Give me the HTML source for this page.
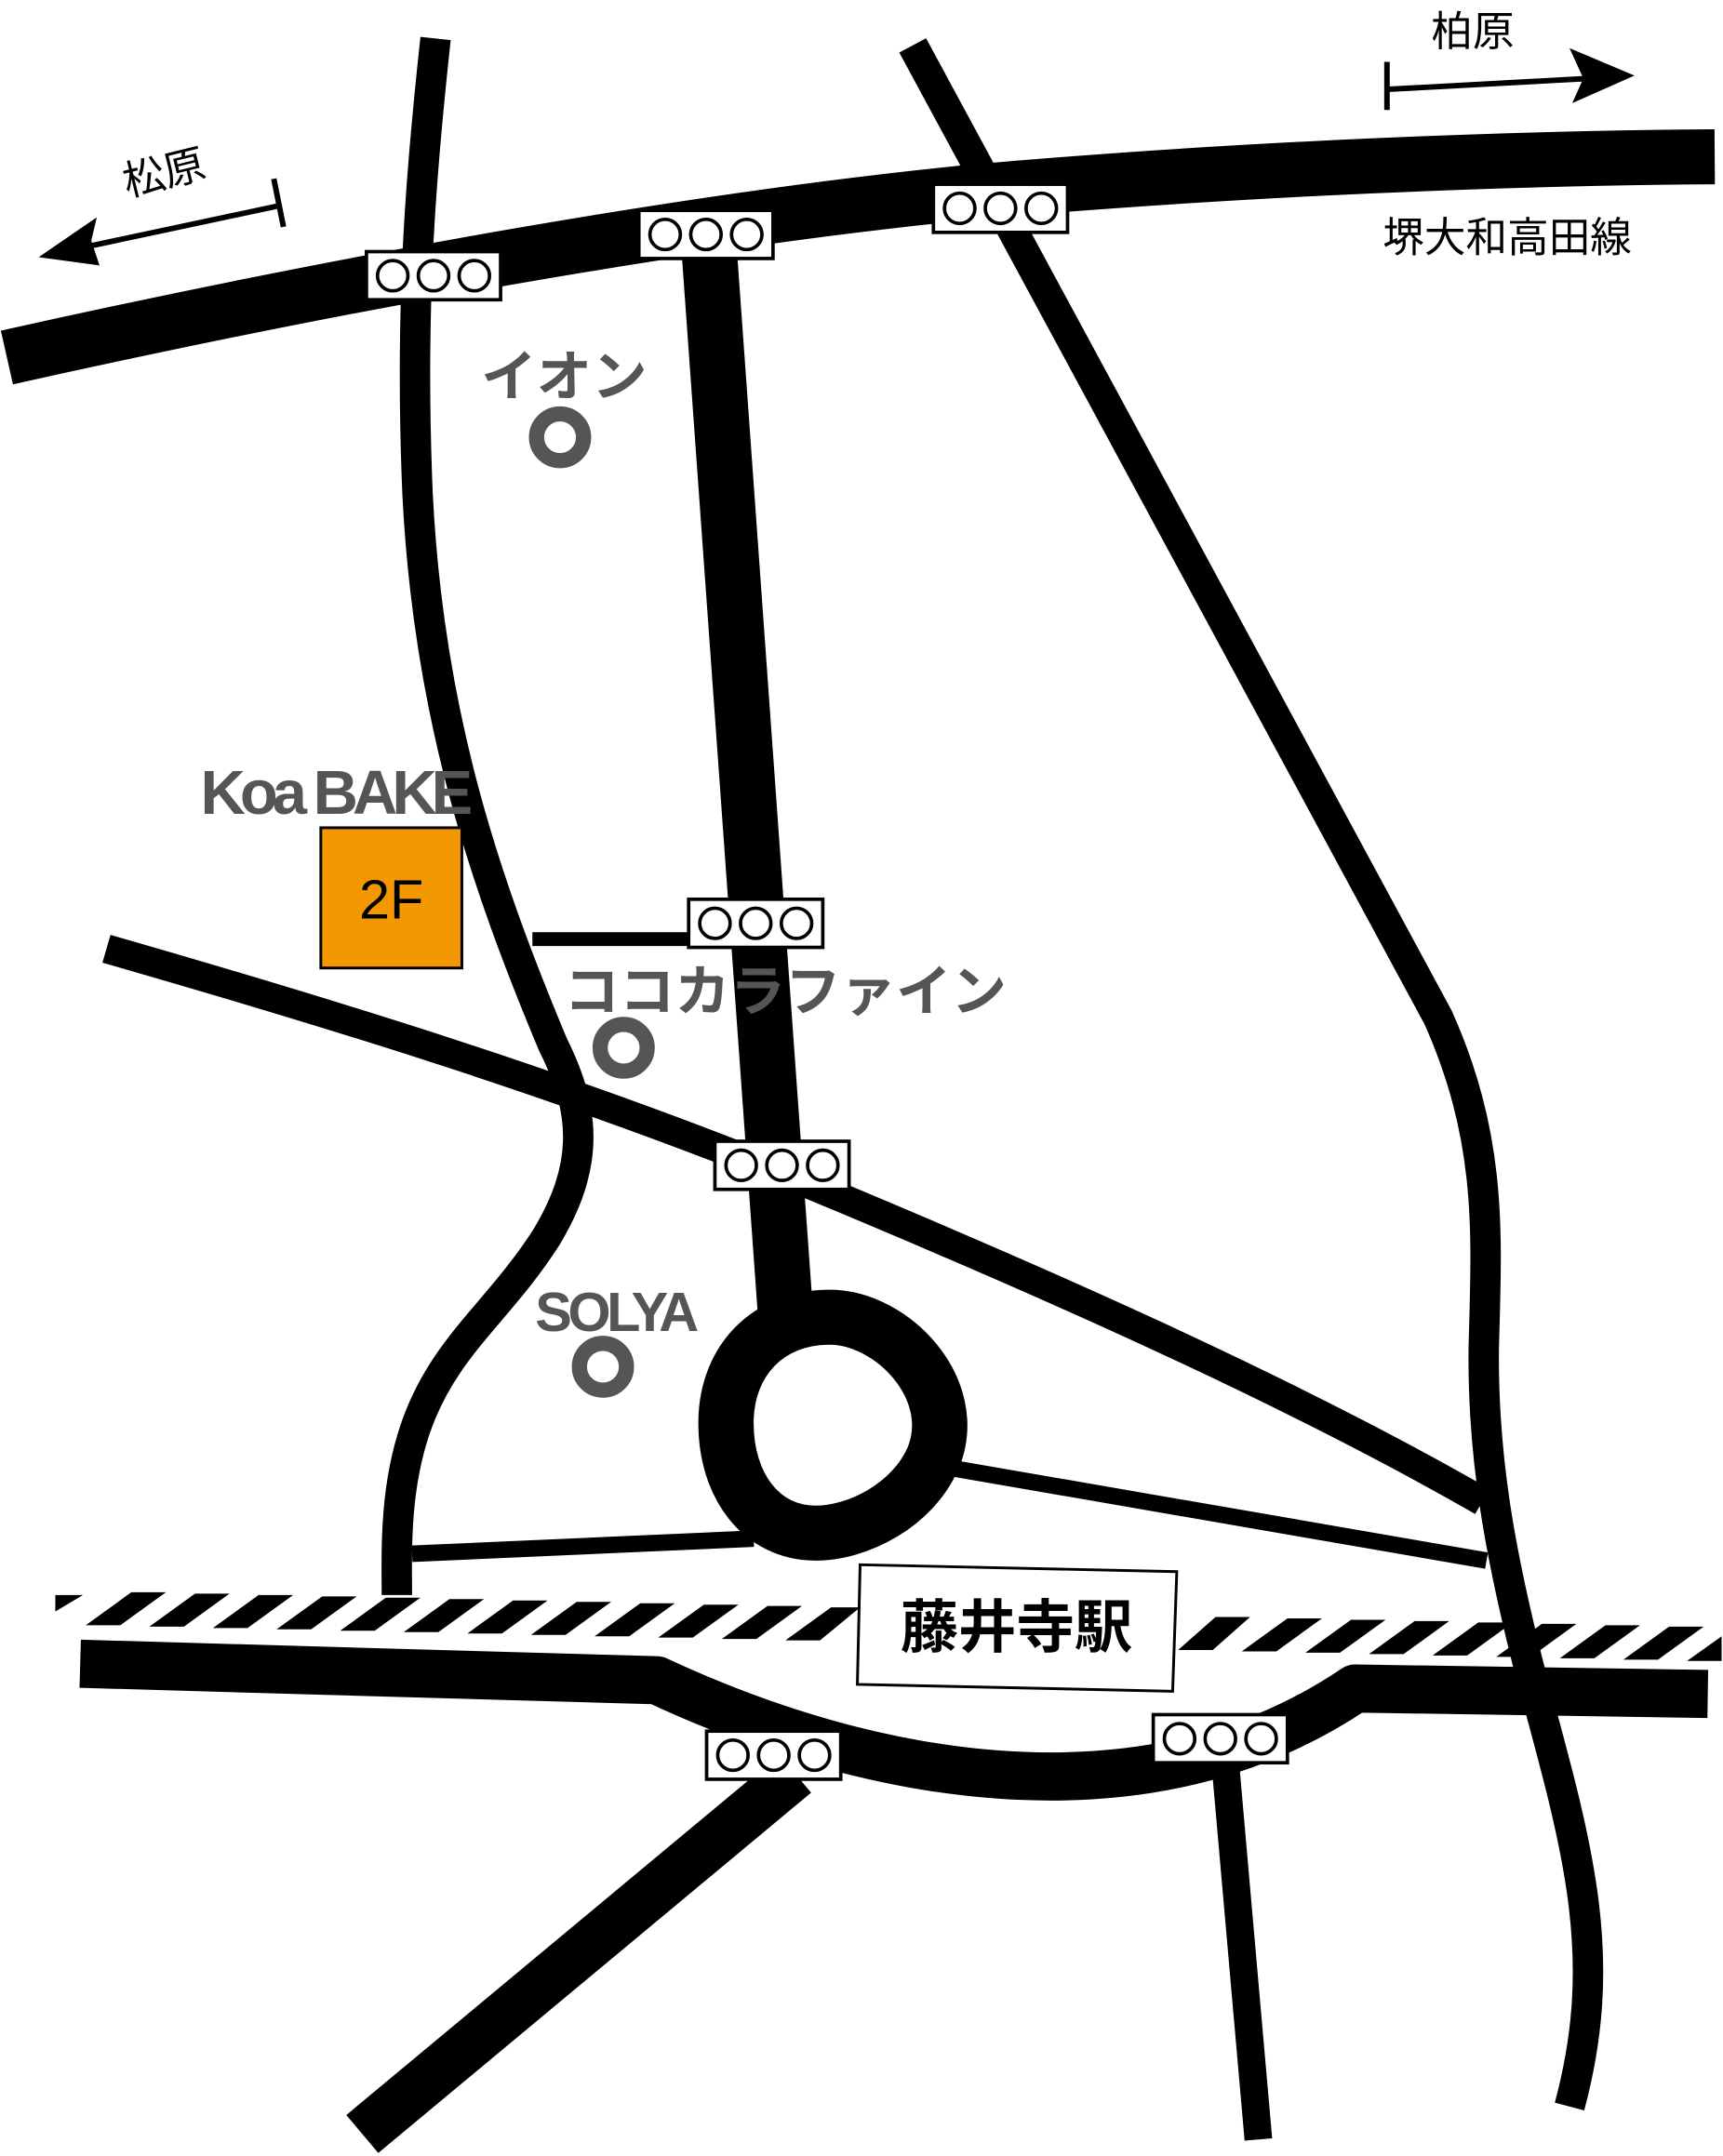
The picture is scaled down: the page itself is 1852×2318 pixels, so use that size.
<!DOCTYPE html>
<html><head><meta charset="utf-8"><style>
html,body{margin:0;padding:0;background:#fff;}
svg{display:block;}
text{font-family:"Liberation Sans","Noto Sans CJK JP",sans-serif;}
</style></head><body>
<svg width="1852" height="2318" viewBox="0 0 1246 1568" preserveAspectRatio="none" xmlns="http://www.w3.org/2000/svg">
<defs>
<g id="sig"><rect x="0" y="0" width="97" height="35" fill="#fff" stroke="#000" stroke-width="2.5"/>
<circle cx="19" cy="17.5" r="11" fill="#fff" stroke="#000" stroke-width="2.5"/>
<circle cx="48.5" cy="17.5" r="11" fill="#fff" stroke="#000" stroke-width="2.5"/>
<circle cx="78" cy="17.5" r="11" fill="#fff" stroke="#000" stroke-width="2.5"/></g>
<g id="mk"><circle r="17" fill="none" stroke="#555" stroke-width="11"/></g>
</defs>
<g fill="none" stroke="#000" stroke-linecap="butt" stroke-linejoin="round">
<path d="M315,28 C305,120 296,220 302,360 C310,520 350,640 400,760 C425,810 425,850 395,900 C360,955 320,980 300,1040 C285,1085 287,1130 287,1160" stroke-width="22"/>
<path d="M660,33 L1040,740 C1080,830 1075,900 1073,980 C1072,1060 1085,1130 1105,1210 C1140,1340 1165,1420 1135,1532" stroke-width="22"/>
<path d="M512,170 L568,955" stroke-width="40"/>
<path d="M77,690 C250,740 410,790 570,855 C750,930 930,1010 1072,1092" stroke-width="21"/>
<path d="M385,683 L500,683" stroke-width="10"/>
<path d="M600,958 C645,958 695,1010 675,1060 C660,1095 620,1115 590,1115 C550,1115 525,1080 525,1035 C525,990 555,958 600,958 Z" stroke-width="40"/>
<path d="M690,1068 L1075,1135" stroke-width="12"/>
<path d="M298,1130 L545,1119" stroke-width="12"/>
<path d="M5,260 C250,205 500,160 700,140 C900,122 1100,115 1240,114" stroke-width="40"/>
<path d="M58,1210 L475,1222 C560,1262 660,1292 760,1292 C860,1292 930,1262 980,1228 L1235,1232" stroke-width="35"/>
<path d="M575,1290 L262,1552" stroke-width="36"/>
<path d="M885,1270 L910,1556" stroke-width="20"/>
<path d="M200,150 L60,180" stroke-width="4"/>
<path d="M198,130 L205,165" stroke-width="4"/>
<path d="M1003,65 L1150,57" stroke-width="4"/>
<path d="M1003,45 L1003,80" stroke-width="4"/>
</g>
<path d="M28,187 L70,158 L66,175 L72,193 Z" fill="#000"/>
<path d="M1182,55 L1135,35 L1145,57 L1137,75 Z" fill="#000"/>
<polygon points="622,1138 851,1143 848,1230 620,1225" fill="#fff" stroke="#000" stroke-width="2"/>
<text x="735" y="1198" font-size="42" font-weight="bold" text-anchor="middle">藤井寺駅</text>
<use href="#sig" x="265" y="183"/>
<use href="#sig" x="462" y="153"/>
<use href="#sig" x="675" y="134"/>
<use href="#sig" x="498" y="654"/>
<use href="#sig" x="517" y="830"/>
<use href="#sig" x="511" y="1259"/>
<use href="#sig" x="834" y="1247"/>
<use href="#mk" x="405" y="318"/>
<use href="#mk" x="451" y="762"/>
<use href="#mk" x="436" y="994"/>
<text x="348" y="288" font-size="40" fill="#555" font-weight="bold">イオン</text>
<text x="408" y="735" font-size="40" fill="#555" font-weight="bold">ココカラファイン</text>
<text x="387" y="968" font-size="40" fill="#555" font-weight="bold" letter-spacing="-3">SOLYA</text>
<text x="145" y="592" font-size="45" fill="#555" font-weight="bold" letter-spacing="-4">Koa BAKE</text>
<rect x="232" y="602" width="102" height="102" fill="#f39800" stroke="#000" stroke-width="2"/>
<text x="283" y="668" font-size="40" text-anchor="middle">2F</text>
<text x="92" y="143" font-size="30" transform="rotate(-14 92 143)">松原</text>
<text x="1035" y="33" font-size="30">柏原</text>
<text x="1000" y="183" font-size="30">堺大和高田線</text>
<g fill="#000">
<polygon points="40,1160 60,1160 40,1172"/>
<polygon points="62,1182 95,1158 120,1158 87,1182"/>
<polygon points="108,1183 141,1159 166,1159 133,1183"/>
<polygon points="154,1184 187,1160 212,1160 179,1184"/>
<polygon points="200,1185 233,1161 258,1161 225,1185"/>
<polygon points="246,1186 279,1162 304,1162 271,1186"/>
<polygon points="292,1187 325,1163 350,1163 317,1187"/>
<polygon points="338,1188 371,1164 396,1164 363,1188"/>
<polygon points="384,1189 417,1165 442,1165 409,1189"/>
<polygon points="430,1190 463,1166 488,1166 455,1190"/>
<polygon points="476,1191 509,1167 534,1167 501,1191"/>
<polygon points="522,1192 555,1168 580,1168 547,1192"/>
<polygon points="568,1193 601,1169 622,1169 593,1193"/>
<polygon points="852,1200 879,1176 904,1176 877,1200"/>
<polygon points="898,1201 931,1177 956,1177 923,1201"/>
<polygon points="944,1202 977,1178 1002,1178 969,1202"/>
<polygon points="990,1203 1023,1179 1048,1179 1015,1203"/>
<polygon points="1036,1204 1069,1180 1094,1180 1061,1204"/>
<polygon points="1082,1205 1115,1181 1140,1181 1107,1205"/>
<polygon points="1128,1206 1161,1182 1186,1182 1153,1206"/>
<polygon points="1174,1207 1207,1183 1232,1183 1199,1207"/>
<polygon points="1220,1208 1245,1190 1245,1208"/>
</g>
</svg>
</body></html>
